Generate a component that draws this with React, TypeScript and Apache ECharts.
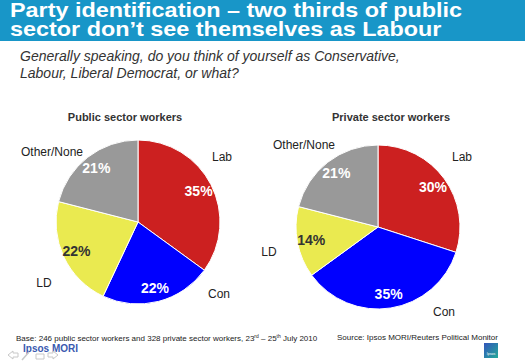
import React, { useEffect, useRef } from "react";
import * as echarts from "echarts";

const categories = ["Lab", "Con", "LD", "Other/None"];
const publicValues = [35, 22, 22, 21];
const privateValues = [30, 35, 14, 21];
const pieTitles = ["Public sector workers", "Private sector workers"];
const titleLines = [
  "Party identification \u2013 two thirds of public",
  "sector don\u2019t see themselves as Labour",
];
const questionLines = [
  "Generally speaking, do you think of yourself as Conservative,",
  "Labour, Liberal Democrat, or what?",
];
const baseNote =
  "Base: 246 public sector workers and 328 private sector workers, 23{sup|rd} \u2013 25{sup|th} July 2010";
const sourceNote = "Source: Ipsos MORI/Reuters Political Monitor";
const brand = "Ipsos MORI";

const sliceColors = ["#CC2020", "#0000FF", "#EAEA50", "#999999"];
const pctColors = ["#FFFFFF", "#FFFFFF", "#333333", "#FFFFFF"];

const publicNamePos = [
  [222, 157],
  [219, 294],
  [44, 283],
  [52, 152],
];
const privateNamePos = [
  [462, 157],
  [444, 312],
  [269, 252],
  [304, 145],
];

const FONT = "Liberation Sans, Arial, sans-serif";

function buildPie(values: number[], center: number[], namePos: number[][]) {
  const R = 82;
  const main = {
    type: "pie",
    center,
    radius: R,
    startAngle: 90,
    clockwise: true,
    silent: true,
    data: categories.map((c, i) => ({
      name: c,
      value: values[i],
      itemStyle: { color: sliceColors[i], borderColor: "#FFFFFF", borderWidth: 1 },
    })),
    label: {
      show: true,
      position: "outside",
      formatter: "{b}",
      fontSize: 12,
      fontFamily: FONT,
      color: "#222222",
      overflow: "none",
    },
    labelLine: { show: false },
    labelLayout: (p: any) => ({
      x: namePos[p.dataIndex][0],
      y: namePos[p.dataIndex][1],
      align: "center",
      verticalAlign: "middle",
    }),
  };
  const overlay = {
    type: "pie",
    center,
    radius: [48, R],
    startAngle: 90,
    clockwise: true,
    silent: true,
    z: 3,
    data: categories.map((c, i) => ({
      name: c,
      value: values[i],
      itemStyle: { color: "rgba(0,0,0,0)" },
      label: { color: pctColors[i] },
    })),
    label: {
      show: true,
      position: "inside",
      formatter: "{c}%",
      fontSize: 14,
      fontWeight: "bold",
      fontFamily: FONT,
    },
    labelLine: { show: false },
  };
  return [main, overlay];
}

const NAV = "#C8C8C8";

export default function App() {
  const ref = useRef<HTMLDivElement>(null);
  useEffect(() => {
    document.body.style.margin = "0";
    const chart = echarts.init(ref.current!, undefined, { renderer: "svg" });
    const option: any = {
      animation: false,
      backgroundColor: "#FFFFFF",
      series: [
        ...buildPie(publicValues, [138, 222], publicNamePos),
        ...buildPie(privateValues, [378, 227], privateNamePos),
      ],
      graphic: [
        {
          type: "rect",
          shape: { x: 0, y: 0, width: 525, height: 41 },
          style: { fill: "#1896C8" },
          z: 0,
        },
        {
          type: "text",
          x: 10,
          y: 1,
          scaleX: 1.17,
          style: {
            text: titleLines.join("\n"),
            fill: "#FFFFFF",
            font: `bold 20px ${FONT}`,
            lineHeight: 19,
            textVerticalAlign: "top",
          },
          z: 1,
        },
        ...questionLines.map((t, i) => ({
          type: "text",
          x: 20,
          y: 56 + i * 17,
          style: {
            text: t,
            fill: "#333333",
            font: `italic 14px ${FONT}`,
            textVerticalAlign: "middle",
          },
        })),
        {
          type: "text",
          x: 125,
          y: 117,
          style: {
            text: pieTitles[0],
            fill: "#333333",
            font: `bold 11px ${FONT}`,
            textAlign: "center",
            textVerticalAlign: "middle",
          },
        },
        {
          type: "text",
          x: 391,
          y: 117,
          style: {
            text: pieTitles[1],
            fill: "#333333",
            font: `bold 11px ${FONT}`,
            textAlign: "center",
            textVerticalAlign: "middle",
          },
        },
        {
          type: "text",
          x: 16,
          y: 338,
          style: {
            text: baseNote,
            fill: "#222222",
            font: `8px ${FONT}`,
            textVerticalAlign: "middle",
            rich: {
              sup: { fontSize: 5, fontFamily: FONT, fill: "#222222", padding: [0, 0, 4, 0] },
            },
          },
        },
        {
          type: "text",
          x: 337,
          y: 337,
          style: {
            text: sourceNote,
            fill: "#222222",
            font: `8px ${FONT}`,
            textVerticalAlign: "middle",
          },
        },
        {
          type: "text",
          x: 23,
          y: 348,
          style: {
            text: brand,
            fill: "#3A5AB0",
            font: `bold 10px ${FONT}`,
            textVerticalAlign: "middle",
          },
        },
        {
          type: "polyline",
          shape: { points: [[13, 351], [8, 355], [13, 359], [13, 357], [18, 357], [18, 353], [13, 353], [13, 351]] },
          style: { stroke: NAV, fill: "none", lineWidth: 1 },
        },
        {
          type: "line",
          shape: { x1: 22, y1: 360, x2: 29, y2: 352 },
          style: { stroke: NAV, lineWidth: 1.5 },
        },
        {
          type: "rect",
          shape: { x: 36, y: 354, width: 8, height: 5 },
          style: { stroke: NAV, fill: "none", lineWidth: 1 },
        },
        {
          type: "polyline",
          shape: { points: [[53, 351], [58, 355], [53, 359], [53, 357], [48, 357], [48, 353], [53, 353], [53, 351]] },
          style: { stroke: NAV, fill: "none", lineWidth: 1 },
        },
        {
          type: "rect",
          shape: { x: 484, y: 343, width: 14, height: 15 },
          style: {
            fill: new echarts.graphic.LinearGradient(0, 0, 1, 1, [
              { offset: 0, color: "#3355BB" },
              { offset: 1, color: "#22AA99" },
            ]),
          },
        },
        {
          type: "text",
          x: 491,
          y: 354,
          style: {
            text: "Ipsos",
            fill: "#FFFFFF",
            font: `3.5px ${FONT}`,
            textAlign: "center",
            textVerticalAlign: "middle",
          },
        },
      ],
    };
    chart.setOption(option);
    return () => chart.dispose();
  }, []);
  return <div ref={ref} style={{ width: 525, height: 361 }} />;
}
